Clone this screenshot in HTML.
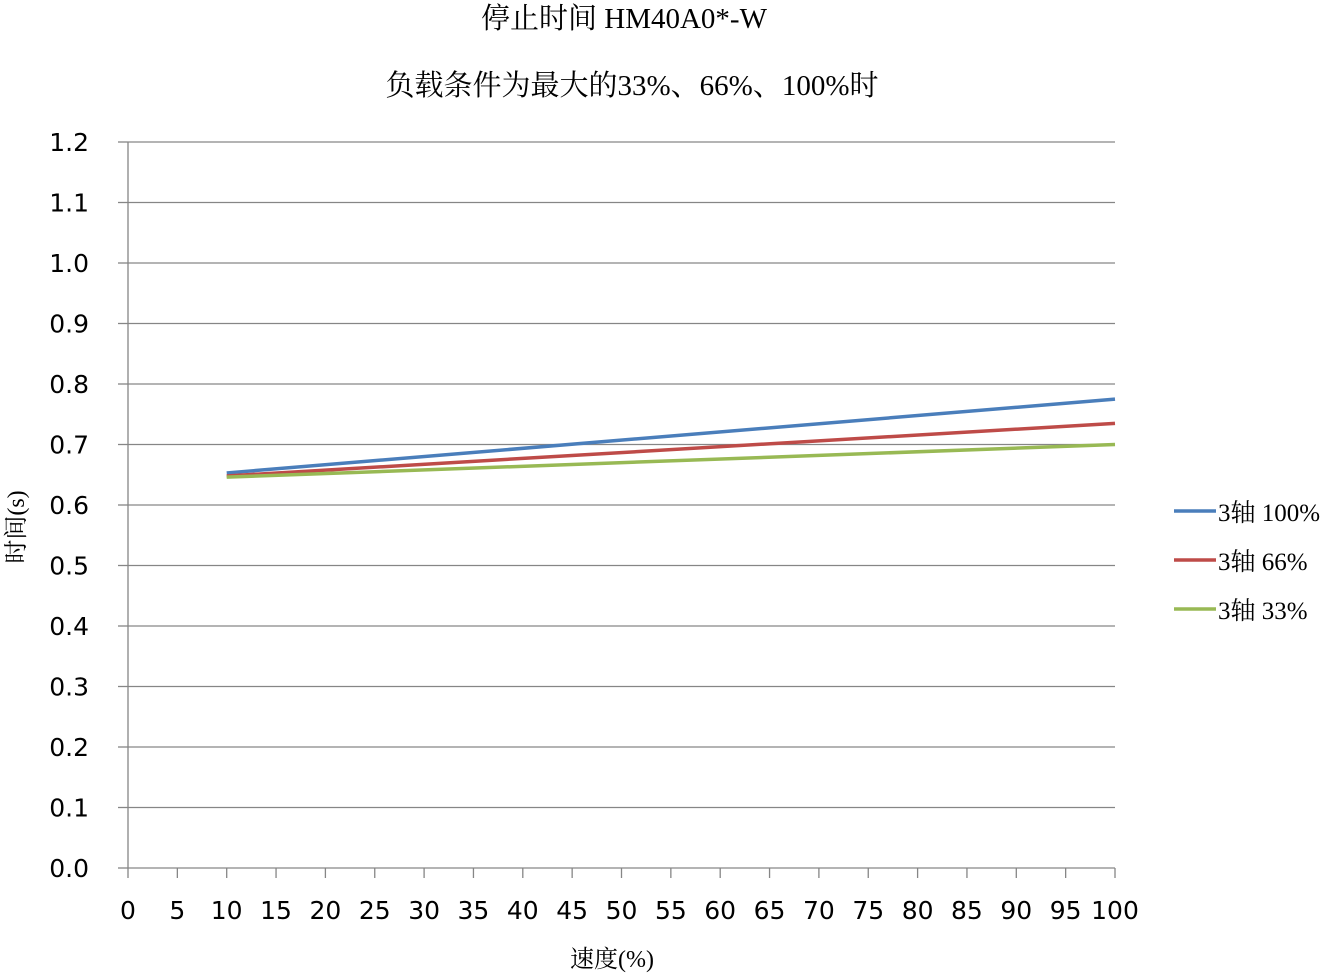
<!DOCTYPE html>
<html><head><meta charset="utf-8">
<style>
html,body{margin:0;padding:0;background:#fff;}
svg{display:block;}
.tick{font-family:"DejaVu Sans","Liberation Sans",sans-serif;font-size:25px;fill:#000;}
.cjk{font-family:"Liberation Serif","Noto Serif CJK SC",serif;fill:#000;}
</style></head>
<body>
<svg id="chart" width="1336" height="973" viewBox="0 0 1336 973">
<text class="cjk" x="624" y="28" font-size="29" text-anchor="middle">停止时间 HM40A0*-W</text>
<text class="cjk" x="632" y="95" font-size="29" text-anchor="middle">负载条件为最大的33%、66%、100%时</text>
<g id="grid"></g>
<g id="axes"></g>
<g id="series"></g>
<text class="cjk" x="612" y="967" font-size="24" text-anchor="middle">速度(%)</text>
<text class="cjk" x="24" y="527" font-size="24" text-anchor="middle" transform="rotate(-90 24 527)">时间(s)</text>
<g id="legend"></g>
</svg>
<script>
const xCategories=[10,100];
const series100=[0.653,0.775];
const series66=[0.648,0.735];
const series33=[0.646,0.700];
const yTickLabels=["0.0","0.1","0.2","0.3","0.4","0.5","0.6","0.7","0.8","0.9","1.0","1.1","1.2"];
const xTickLabels=["0","5","10","15","20","25","30","35","40","45","50","55","60","65","70","75","80","85","90","95","100"];
const seriesNames=["3轴 100%","3轴 66%","3轴 33%"];

const NS="http://www.w3.org/2000/svg";
const X0=128,X1=1115,Y0=868,Y1=142;
const xs=v=>X0+(v/100)*(X1-X0);
const ys=v=>Y0-(v/1.2)*(Y0-Y1);
function mk(tag,attrs,parent){const e=document.createElementNS(NS,tag);for(const k in attrs)e.setAttribute(k,attrs[k]);parent.appendChild(e);return e;}
const grid=document.getElementById('grid'),axes=document.getElementById('axes'),ser=document.getElementById('series'),leg=document.getElementById('legend');

yTickLabels.forEach(l=>{
  const v=parseFloat(l),y=ys(v);
  if(v>0){const g=mk('line',{x1:X0,x2:X1,y1:y,y2:y,stroke:'#868686','stroke-width':1.3},grid);
  
  }
  const t=mk('line',{x1:118,x2:X0,y1:y,y2:y,stroke:'#868686','stroke-width':1.3},axes);
  
  
  const tx=mk('text',{x:89,y:y+9,'text-anchor':'end',class:'tick'},axes);tx.textContent=l;
  
  
});
const ya=mk('line',{x1:X0,x2:X0,y1:Y1,y2:Y0,stroke:'#868686','stroke-width':1.3},axes);


const xa=mk('line',{x1:X0,x2:X1,y1:Y0,y2:Y0,stroke:'#868686','stroke-width':1.3},axes);


xTickLabels.forEach(l=>{
  const x=xs(parseFloat(l));
  const t=mk('line',{x1:x,x2:x,y1:Y0,y2:Y0+10,stroke:'#868686','stroke-width':1.3},axes);
  
  
  const tx=mk('text',{x:x,y:919,'text-anchor':'middle',class:'tick'},axes);tx.textContent=l;
  
  
});
const all=[[series100,'#4a7ebb'],[series66,'#be4b48'],[series33,'#98b954']];
all.forEach((s,i)=>{
  const pts=s[0].map((v,j)=>xs(xCategories[j])+','+ys(v)).join(' ');
  const p=mk('polyline',{points:pts,fill:'none',stroke:s[1],'stroke-width':3.5},ser);
  
  
  const ly=511+i*49;
  const g=mk('g',{},leg);
  
  
  mk('line',{x1:1174,x2:1216,y1:ly,y2:ly,stroke:s[1],'stroke-width':3.5},g);
  const t=mk('text',{x:1218,y:ly+10,class:'cjk','font-size':25},g);t.textContent=seriesNames[i];
});
</script>
</body></html>
